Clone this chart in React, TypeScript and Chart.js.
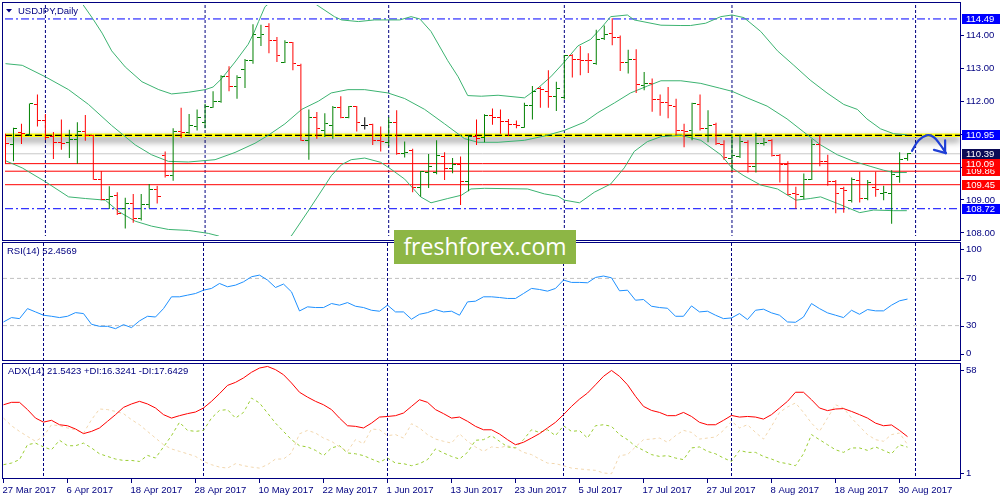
import React, { useEffect, useRef } from "react";
import { Chart, registerables } from "chart.js";

Chart.register(...registerables);

// ---------------- data ----------------
const OPEN = [
  110.95, 110.66, 111.05, 110.97, 111.89, 111.40, 110.93, 110.74, 110.74, 110.81,
  111.07, 110.95, 109.60, 109.01, 109.13, 108.73, 108.88, 108.43, 108.86, 109.29,
  110.34, 109.72, 111.07, 111.05, 111.23, 111.35, 111.81, 111.99, 112.73, 112.45,
  112.96, 113.24, 113.94, 114.26, 113.84, 113.18, 113.77, 113.08, 110.80, 111.50,
  111.10, 111.25, 111.79, 111.50, 111.82, 111.25, 111.27, 110.80, 110.74, 111.35,
  110.41, 110.48, 109.37, 109.82, 109.82, 110.31, 109.94, 110.06, 109.54, 110.93,
  110.87, 111.55, 111.48, 111.37, 111.28, 111.20, 111.86, 112.36, 112.29, 112.12,
  112.11, 113.37, 113.27, 113.24, 113.15, 113.89, 114.05, 113.92, 113.16, 113.25,
  112.48, 112.53, 112.04, 111.94, 111.84, 111.10, 111.10, 111.89, 111.15, 111.27,
  110.68, 110.26, 110.31, 110.74, 110.01, 110.71, 110.80, 110.34, 110.06, 109.17,
  109.10, 109.62, 110.66, 110.16, 109.54, 109.32, 108.96, 109.59, 109.03, 109.35,
  109.17, 109.19, 109.70, 110.24,
];
const HIGH = [
  111.00, 111.18, 111.30, 111.92, 112.19, 111.60, 111.05, 111.43, 111.12, 111.35,
  111.57, 110.97, 109.87, 109.40, 109.22, 109.05, 109.17, 109.17, 109.47, 109.42,
  110.46, 111.17, 111.79, 111.60, 111.74, 111.91, 112.29, 112.78, 113.05, 112.78,
  113.27, 114.33, 114.31, 114.36, 113.94, 113.84, 113.79, 113.13, 111.74, 111.66,
  111.62, 111.84, 112.14, 111.84, 111.84, 111.50, 111.30, 111.22, 111.50, 111.71,
  110.76, 110.54, 109.87, 110.38, 110.80, 110.44, 110.26, 110.31, 110.95, 111.43,
  111.59, 111.77, 111.74, 111.45, 111.40, 111.94, 112.45, 112.43, 112.93, 112.58,
  113.39, 113.42, 113.67, 113.45, 114.16, 114.29, 114.51, 113.99, 113.55, 113.57,
  112.88, 112.68, 112.19, 112.42, 112.06, 111.30, 111.94, 112.19, 111.71, 111.33,
  110.80, 110.97, 110.97, 110.80, 111.03, 110.87, 110.83, 110.38, 110.16, 109.39,
  109.79, 110.83, 110.95, 110.36, 109.59, 109.39, 109.67, 109.85, 109.59, 109.84,
  109.42, 109.89, 110.44, 110.41,
];
const LOW = [
  110.09, 110.16, 110.69, 110.93, 111.22, 110.81, 110.23, 110.51, 110.26, 110.09,
  110.79, 109.60, 108.98, 108.71, 108.53, 108.12, 108.29, 108.36, 108.73, 108.88,
  109.67, 109.57, 110.87, 111.00, 111.10, 111.17, 111.79, 111.94, 112.29, 112.06,
  112.39, 113.13, 113.67, 113.45, 113.18, 113.15, 112.93, 110.79, 110.21, 110.85,
  110.90, 110.85, 111.47, 111.47, 111.07, 111.13, 110.66, 110.46, 110.61, 110.36,
  110.28, 109.22, 109.08, 109.35, 109.77, 109.59, 109.80, 108.83, 109.25, 110.66,
  110.74, 111.27, 111.00, 110.93, 111.17, 111.18, 111.43, 111.79, 111.79, 111.69,
  112.04, 112.71, 112.78, 112.85, 113.10, 113.85, 113.69, 112.91, 112.83, 112.24,
  112.32, 111.67, 111.55, 111.47, 110.95, 110.59, 110.80, 111.10, 110.74, 110.66,
  110.21, 109.87, 110.26, 109.82, 109.82, 110.64, 110.31, 109.52, 109.13, 108.72,
  109.01, 109.59, 110.01, 109.42, 108.58, 108.60, 108.91, 108.91, 108.98, 109.08,
  108.98, 108.26, 109.51, 110.18,
];
const CLOSE = [
  110.69, 111.15, 111.00, 111.92, 111.40, 110.90, 110.74, 110.69, 110.81, 111.07,
  110.95, 109.60, 109.01, 109.08, 108.58, 108.88, 108.43, 108.86, 109.29, 109.10,
  109.72, 111.07, 111.03, 111.25, 111.50, 111.84, 111.99, 112.73, 112.45, 112.71,
  113.24, 114.02, 114.02, 113.84, 113.37, 113.77, 113.13, 110.80, 111.50, 111.15,
  111.30, 111.79, 111.50, 111.82, 111.33, 111.25, 110.80, 110.76, 111.35, 110.41,
  110.44, 109.37, 109.85, 110.01, 110.34, 109.94, 110.06, 109.54, 110.93, 110.85,
  111.55, 111.48, 111.37, 111.28, 111.25, 111.86, 112.29, 112.34, 112.14, 112.39,
  113.37, 113.27, 113.24, 113.22, 113.87, 114.02, 113.92, 113.16, 113.25, 112.51,
  112.53, 112.04, 111.94, 111.86, 111.10, 111.07, 111.92, 111.15, 111.25, 110.69,
  110.28, 110.34, 110.76, 110.01, 110.71, 110.74, 110.34, 110.06, 109.15, 109.14,
  109.62, 110.66, 110.16, 109.54, 109.17, 109.27, 109.62, 109.03, 109.52, 109.29,
  109.22, 109.77, 110.21, 110.39,
];

// Bollinger bands: [bar index, price]
const BB_UPPER: [number, number][] = [
  [9.2, 115.1], [10.9, 114.51], [12.1, 114.06], [13.3, 113.52], [15, 113.03], [17.1, 112.58],
  [19.2, 112.34], [20.8, 112.21], [22.9, 112.26], [25, 112.34], [26, 112.42], [27.1, 112.68],
  [28.75, 113.18], [30.4, 113.72], [31.1, 114.06], [31.7, 114.41], [32.5, 114.86], [33.2, 115.0],
  [36, 115.4], [38.97, 114.92], [41.2, 114.56], [42.1, 114.46], [44.2, 114.41], [46.2, 114.46],
  [49.4, 114.46], [50.8, 114.56], [51.9, 114.49], [53.3, 114.11], [55.4, 113.22], [56.7, 112.73],
  [57.9, 112.16], [59.6, 112.14], [61.7, 112.17], [65, 112.09], [66.7, 112.39], [68.3, 112.73],
  [70, 113.18], [71.7, 113.67], [73.3, 113.87], [74.6, 114.21], [75.8, 114.56], [77.9, 114.61],
  [78.75, 114.46], [82.1, 114.30], [84.6, 114.29], [85.8, 114.29], [87.7, 114.36], [89.6, 114.56],
  [91, 114.61], [92.5, 114.53], [94.6, 114.11], [96.7, 113.52], [98.75, 113.08], [100.8, 112.63],
  [102.9, 112.24], [105, 111.89], [106.7, 111.74], [107.9, 111.45], [109.6, 111.15], [111.25, 111.00],
  [112.9, 110.97],
];
const BB_MIDDLE: [number, number][] = [
  [0, 113.13], [2.1, 113.08], [5, 112.73], [7.9, 112.34], [10.4, 111.89], [13.3, 111.25],
  [16.25, 110.66], [18.3, 110.36], [20.4, 110.16], [22.9, 110.14], [26.25, 110.21], [28.75, 110.43],
  [31.25, 110.71], [32.9, 110.95], [35, 111.30], [37.1, 111.74], [39.2, 111.99], [40.8, 112.24],
  [42.9, 112.34], [45, 112.34], [47.9, 112.24], [50, 112.07], [52.5, 111.74], [55, 111.30],
  [57.5, 110.85], [59.2, 110.74], [61.7, 110.74], [65, 110.80], [67.5, 110.93], [70, 111.10],
  [72.5, 111.35], [74.2, 111.64], [76.3, 111.94], [78.3, 112.24], [80.4, 112.45], [82.1, 112.61],
  [84.6, 112.61], [87.1, 112.53], [89.4, 112.39], [91, 112.29], [92.9, 112.09], [95.4, 111.84],
  [97.9, 111.45], [100, 111.05], [102.1, 110.66], [104.2, 110.36], [106.25, 110.16], [108.3, 110.01],
  [110, 109.89], [111.25, 109.82], [112.9, 109.82],
];
const BB_LOWER: [number, number][] = [
  [0, 110.18], [2.1, 109.96], [5, 109.54], [7.9, 109.08], [10, 109.03], [12.5, 108.98],
  [14.2, 108.63], [16.25, 108.34], [18.3, 108.19], [20.4, 108.09], [22.9, 108.06], [25.4, 107.97],
  [26.7, 107.89], [31, 107.3], [35.8, 107.89], [38, 108.68], [40, 109.42], [40.8, 109.72],
  [42.1, 110.06], [43.3, 110.21], [45, 110.26], [47, 110.13], [48.3, 109.92], [50, 109.62],
  [52, 109.08], [53.3, 108.90], [55.4, 109.03], [57.1, 109.13], [58.3, 109.32], [60, 109.34],
  [65.4, 109.32], [67.5, 109.17], [69.2, 109.10], [70, 108.98], [71.9, 108.90], [73.75, 109.22],
  [75.8, 109.47], [77.5, 109.96], [78.75, 110.46], [80.4, 110.76], [82.1, 110.91], [84.6, 110.95],
  [87.1, 110.80], [89.6, 110.36], [91, 109.96], [92.5, 109.72], [94.6, 109.44], [96.7, 109.32],
  [99, 108.98], [100.8, 109.03], [102.1, 109.08], [104.2, 108.88], [107, 108.60], [108.75, 108.68],
  [111.25, 108.66], [112.9, 108.66],
];

const RSI = [
  33.1, 36.8, 35.9, 44.4, 41.6, 38.8, 37.9, 36.8, 37.9, 41.0,
  40.2, 31.1, 29.4, 29.4, 27.4, 30.8, 28.3, 34.0, 37.9, 37.3,
  44.4, 54.4, 54.4, 55.8, 57.2, 60.0, 61.5, 65.7, 62.9, 64.3,
  67.1, 71.4, 72.8, 68.6, 62.3, 65.2, 58.6, 42.4, 45.9, 45.3,
  45.3, 48.7, 47.3, 49.5, 46.4, 45.3, 43.0, 42.2, 47.3, 41.6,
  41.6, 35.4, 39.6, 41.0, 43.6, 41.6, 42.2, 38.8, 50.1, 50.7,
  54.4, 54.4, 53.8, 53.0, 53.0, 57.2, 61.5, 60.6, 59.2, 61.5,
  68.6, 66.6, 66.6, 66.3, 70.8, 72.0, 70.5, 59.5, 60.0, 51.5,
  52.1, 46.4, 45.3, 44.7, 37.9, 37.9, 46.7, 41.6, 42.2, 38.8,
  35.9, 36.5, 40.2, 35.1, 43.0, 43.9, 40.8, 38.8, 33.1, 32.8,
  37.3, 48.7, 44.4, 40.8, 38.8, 36.8, 43.0, 39.6, 43.6, 42.5,
  42.5, 47.3, 51.0, 52.5,
];
const ADX = [
  37.3, 38.5, 38.5, 34.9, 30.7, 28.7, 29.6, 27.4, 26.9, 25.3,
  23.0, 24.1, 25.8, 29.1, 32.4, 36.0, 37.7, 39.0, 37.7, 35.7,
  32.4, 30.7, 31.9, 32.9, 33.7, 35.7, 39.0, 42.8, 46.9, 48.4,
  50.6, 53.4, 55.5, 56.3, 54.7, 52.2, 48.1, 43.5, 41.1, 39.0,
  37.3, 34.9, 30.7, 26.9, 26.6, 25.8, 28.2, 31.2, 31.5, 31.9,
  33.2, 36.5, 39.8, 38.5, 34.9, 32.9, 30.7, 31.2, 29.1, 26.6,
  24.9, 24.9, 22.8, 20.0, 17.5, 18.7, 20.8, 23.0, 25.8, 28.6,
  32.4, 36.5, 40.1, 43.1, 47.2, 51.4, 54.3, 51.4, 47.2, 41.5,
  36.5, 34.5, 33.5, 31.9, 31.9, 33.5, 31.5, 28.6, 27.4, 27.4,
  29.6, 32.0, 31.2, 31.5, 31.2, 30.2, 32.4, 35.7, 39.0, 43.5,
  43.5, 39.8, 35.7, 34.4, 35.2, 35.4, 34.0, 32.4, 30.7, 28.2,
  26.9, 27.3, 24.6, 21.5,
];
const PLUS_DI = [
  7.6, 8.4, 10.1, 17.5, 18.3, 16.4, 15.0, 19.7, 17.0, 17.0,
  18.3, 15.9, 13.0, 11.7, 10.4, 9.7, 9.7, 9.2, 12.2, 10.9,
  16.4, 22.0, 28.6, 24.6, 24.1, 24.6, 30.7, 34.5, 34.9, 30.7,
  33.5, 40.6, 38.2, 33.2, 28.2, 24.1, 20.0, 17.0, 16.4, 14.7,
  12.1, 15.9, 17.0, 13.4, 13.0, 12.1, 10.4, 8.8, 10.9, 8.4,
  8.1, 7.1, 8.1, 10.1, 15.4, 13.4, 11.7, 10.4, 13.7, 19.7,
  20.0, 22.0, 19.2, 16.4, 15.9, 20.0, 24.9, 23.6, 24.9, 22.0,
  26.9, 24.1, 24.5, 20.8, 26.9, 27.4, 26.6, 22.5, 20.0, 16.7,
  14.7, 12.6, 11.7, 12.1, 10.9, 10.1, 15.9, 16.4, 14.2, 13.0,
  10.9, 9.2, 14.7, 13.7, 13.7, 11.7, 10.4, 8.8, 8.1, 7.1,
  13.0, 22.5, 20.0, 17.5, 15.0, 13.7, 15.9, 15.9, 14.7, 16.4,
  14.7, 13.0, 17.5, 16.3,
];
const MINUS_DI = [
  30.7, 26.9, 24.1, 21.6, 19.2, 21.6, 27.4, 26.9, 25.8, 24.9,
  23.3, 29.9, 35.2, 34.9, 34.0, 32.9, 29.9, 27.4, 24.1, 20.8,
  17.5, 15.4, 14.2, 13.0, 11.7, 9.2, 7.6, 6.4, 5.9, 8.1,
  7.1, 6.4, 5.9, 7.6, 10.4, 10.4, 13.4, 22.9, 24.6, 23.3,
  20.8, 19.2, 16.4, 14.2, 20.0, 18.0, 25.3, 24.9, 22.0, 22.5,
  20.8, 27.9, 25.8, 22.5, 20.3, 19.2, 18.3, 22.9, 19.2, 16.4,
  14.2, 16.4, 16.0, 17.0, 15.9, 13.7, 12.6, 10.4, 8.4, 8.1,
  7.1, 5.9, 5.5, 5.1, 4.8, 3.5, 3.1, 12.1, 12.6, 16.4,
  20.0, 20.3, 20.8, 18.7, 22.0, 24.6, 23.6, 20.3, 20.8, 21.3,
  24.6, 29.1, 25.8, 27.4, 23.6, 20.3, 26.6, 33.5, 36.2, 38.2,
  33.5, 28.2, 24.1, 30.7, 37.3, 35.7, 30.7, 26.6, 22.5, 20.0,
  19.2, 22.5, 23.3, 17.6,
];

const X_LABEL_BARS = [0, 8, 16, 24, 32, 40, 48, 56, 64, 72, 80, 88, 96, 104, 112];
const X_LABELS = [
  "27 Mar 2017", "6 Apr 2017", "18 Apr 2017", "28 Apr 2017", "10 May 2017",
  "22 May 2017", "1 Jun 2017", "13 Jun 2017", "23 Jun 2017", "5 Jul 2017",
  "17 Jul 2017", "27 Jul 2017", "8 Aug 2017", "18 Aug 2017", "30 Aug 2017",
];
const MONTH_START_BARS = [5, 25, 48, 70, 91, 114];
const PRICE_TICKS = [114, 113, 112, 111, 110, 109, 108];
const LEVEL_VALUES = [114.49, 110.95, 110.39, 110.09, 109.86, 109.45, 108.72];
const RSI_LEVELS = [70, 30];
const RSI_TICKS = [100, 70, 30, 0];
const ADX_TICKS = [58, 1];
const ARROW_PATH: [number, number][] = [
  [113.55, 110.48], [114.4, 110.80], [115.4, 110.95], [116.25, 110.90], [117.1, 110.66], [117.8, 110.41],
];
const ARROW_HEAD: [number, number][] = [[116.3, 110.51], [117.8, 110.41], [117.7, 110.80]];
const TITLE = "USDJPY,Daily";
const RSI_TITLE = "RSI(14) 52.4569";
const ADX_TITLE = "ADX(14) 21.5423 +DI:16.3241 -DI:17.6429";
const WATERMARK = "freshforex.com";

// ---------------- layout / style ----------------
const X_MIN = -0.0625;
const X_MAX = 119.5625;
const PRICE_MIN = 107.89;
const PRICE_MAX = 114.914;
const NAVY = "#000080";
const GREEN = "#008000";
const RED = "#FF0000";
const BLACK = "#000000";
const BB_COLOR = "#3CB371";
const FONT = '9.5px "Liberation Sans", Arial, sans-serif';
const LEVEL_BOX = ["#0000FF", "#0000FF", "#0B0B55", "#FF0000", "#FF0000", "#FF0000", "#0000FF"];

const pts = (arr: number[]) => arr.map((v, i) => ({ x: i, y: v }));
const pairs = (arr: [number, number][]) => arr.map(([x, y]) => ({ x, y }));
const hline = (v: number) => [{ x: X_MIN, y: v }, { x: X_MAX, y: v }];

function tickImage(color: string, left: boolean) {
  const c = document.createElement("canvas");
  c.width = 7;
  c.height = 1;
  const g = c.getContext("2d")!;
  g.fillStyle = color;
  g.fillRect(left ? 0 : 4, 0, 3, 1);
  return c;
}

const baseOptions = (padding: any, yMin: number, yMax: number) => ({
  responsive: false,
  animation: false,
  devicePixelRatio: 1,
  events: [],
  layout: { padding },
  plugins: { legend: { display: false }, tooltip: { enabled: false } },
  elements: { point: { radius: 0 }, line: { borderWidth: 1, tension: 0 } },
  scales: {
    x: { type: "linear", min: X_MIN, max: X_MAX, display: false, offset: false },
    y: { type: "linear", min: yMin, max: yMax, display: false },
  },
});

function drawMonthGrid(chart: any) {
  const { ctx, chartArea: a, scales } = chart;
  ctx.save();
  ctx.strokeStyle = NAVY;
  ctx.lineWidth = 1;
  ctx.setLineDash([3, 2]);
  MONTH_START_BARS.forEach((b) => {
    const px = scales.x.getPixelForValue(b);
    ctx.beginPath();
    ctx.moveTo(px, a.top);
    ctx.lineTo(px, a.bottom);
    ctx.stroke();
  });
  ctx.restore();
}

function drawFrame(ctx: any, top: number, bottom: number) {
  ctx.save();
  ctx.strokeStyle = NAVY;
  ctx.lineWidth = 1;
  ctx.setLineDash([]);
  ctx.strokeRect(2.5, top, 958, bottom - top);
  ctx.restore();
}

const shadowPlugin = {
  id: "shadowPlugin",
  beforeDatasetDraw(chart: any, args: any) {
    const ds = chart.data.datasets[args.index];
    if (ds.shadow) {
      const ctx = chart.ctx;
      ctx.save();
      ctx.shadowColor = "rgba(0,0,0,0.6)";
      ctx.shadowBlur = 7;
      ctx.shadowOffsetY = 4;
    }
  },
  afterDatasetDraw(chart: any, args: any) {
    const ds = chart.data.datasets[args.index];
    if (ds.shadow) chart.ctx.restore();
  },
};

const mainDecor = {
  id: "mainDecor",
  beforeDatasetsDraw(chart: any) {
    drawMonthGrid(chart);
  },
  afterDraw(chart: any) {
    const { ctx, scales } = chart;
    drawFrame(ctx, 2.5, 240.5);
    ctx.save();
    ctx.font = FONT;
    ctx.textBaseline = "middle";
    ctx.textAlign = "left";
    ctx.strokeStyle = NAVY;
    ctx.fillStyle = NAVY;
    ctx.lineWidth = 1;
    PRICE_TICKS.forEach((p) => {
      const py = scales.y.getPixelForValue(p);
      ctx.beginPath();
      ctx.moveTo(960, Math.round(py) + 0.5);
      ctx.lineTo(964, Math.round(py) + 0.5);
      ctx.stroke();
      ctx.fillText(p.toFixed(2), 966, py + 0.5);
    });
    for (let i = LEVEL_VALUES.length - 1; i >= 0; i--) {
      const v = LEVEL_VALUES[i];
      const py = scales.y.getPixelForValue(v);
      ctx.fillStyle = LEVEL_BOX[i];
      ctx.fillRect(962, Math.round(py) - 5, 38, 10);
      ctx.fillStyle = "#FFFFFF";
      ctx.fillText(v.toFixed(2), 966, Math.round(py) + 0.5);
    }
    // title
    ctx.fillStyle = NAVY;
    ctx.beginPath();
    ctx.moveTo(6, 9);
    ctx.lineTo(12, 9);
    ctx.lineTo(9, 12.5);
    ctx.closePath();
    ctx.fill();
    ctx.fillText(TITLE, 18, 11);
    ctx.restore();
  },
};

const rsiDecor = {
  id: "rsiDecor",
  beforeDatasetsDraw(chart: any) {
    drawMonthGrid(chart);
  },
  afterDraw(chart: any) {
    const { ctx, scales } = chart;
    drawFrame(ctx, 1.5, 119.5);
    ctx.save();
    ctx.font = FONT;
    ctx.textBaseline = "middle";
    ctx.fillStyle = NAVY;
    ctx.strokeStyle = NAVY;
    RSI_TICKS.forEach((v) => {
      let py = scales.y.getPixelForValue(v);
      if (v === 100) py += 6;
      if (v === 0) py -= 7.5;
      ctx.beginPath();
      ctx.moveTo(960, Math.round(py) + 0.5);
      ctx.lineTo(964, Math.round(py) + 0.5);
      ctx.stroke();
      ctx.fillText(String(v), 966, py);
    });
    ctx.fillText(RSI_TITLE, 7, 10.5);
    ctx.restore();
  },
};

const adxDecor = {
  id: "adxDecor",
  beforeDatasetsDraw(chart: any) {
    drawMonthGrid(chart);
  },
  afterDraw(chart: any) {
    const { ctx, scales } = chart;
    drawFrame(ctx, 2.5, 117.5);
    ctx.save();
    ctx.font = FONT;
    ctx.textBaseline = "middle";
    ctx.fillStyle = NAVY;
    ctx.strokeStyle = NAVY;
    ctx.lineWidth = 1;
    ADX_TICKS.forEach((v, i) => {
      let py = scales.y.getPixelForValue(v);
      py += i === 0 ? 7 : -5;
      ctx.beginPath();
      ctx.moveTo(960, Math.round(py) + 0.5);
      ctx.lineTo(964, Math.round(py) + 0.5);
      ctx.stroke();
      ctx.fillText(String(v), 966, py);
    });
    ctx.fillText(ADX_TITLE, 8, 10.5);
    ctx.textBaseline = "alphabetic";
    X_LABEL_BARS.forEach((b, i) => {
      const px = scales.x.getPixelForValue(b);
      ctx.beginPath();
      ctx.moveTo(px, 117.5);
      ctx.lineTo(px, 122);
      ctx.stroke();
      ctx.fillText(X_LABELS[i], px - 1, 131.5);
    });
    ctx.restore();
  },
};

export default function App() {
  const mainRef = useRef<HTMLCanvasElement>(null);
  const rsiRef = useRef<HTMLCanvasElement>(null);
  const adxRef = useRef<HTMLCanvasElement>(null);

  useEffect(() => {
    const colors = CLOSE.map((c, i) => (c > OPEN[i] ? GREEN : c < OPEN[i] ? RED : BLACK));
    const imgs: any = {};
    [GREEN, RED, BLACK].forEach((c) => {
      imgs[c] = { open: tickImage(c, true), close: tickImage(c, false) };
    });

    const levelLine = (i: number, color: string, dash: number[], width: number, order: number, extra: any = {}) => ({
      type: "line",
      data: hline(LEVEL_VALUES[i]),
      borderColor: color,
      borderWidth: width,
      borderDash: dash,
      pointRadius: 0,
      order,
      ...extra,
    });

    const main = new Chart(mainRef.current!, {
      type: "bar",
      data: {
        datasets: [
          {
            type: "bar",
            data: HIGH.map((h, i) => ({ x: i, y: [LOW[i], h] })),
            backgroundColor: colors,
            borderWidth: 0,
            barThickness: 1,
            inflateAmount: 0,
            order: 1,
          },
          {
            type: "line",
            data: pts(OPEN),
            showLine: false,
            pointStyle: colors.map((c) => imgs[c].open),
            pointRadius: 3,
            order: 0,
          },
          {
            type: "line",
            data: pts(CLOSE),
            showLine: false,
            pointStyle: colors.map((c) => imgs[c].close),
            pointRadius: 3,
            order: 0,
          },
          { type: "line", data: pairs(BB_UPPER), borderColor: BB_COLOR, borderWidth: 1, pointRadius: 0, order: 5 },
          { type: "line", data: pairs(BB_MIDDLE), borderColor: BB_COLOR, borderWidth: 1, pointRadius: 0, order: 5 },
          { type: "line", data: pairs(BB_LOWER), borderColor: BB_COLOR, borderWidth: 1, pointRadius: 0, order: 5 },
          levelLine(0, "#0000FF", [8, 3, 2, 3], 1, 8),
          levelLine(1, "#FFFF00", [], 3.5, 10, { shadow: true }),
          levelLine(1, "#000000", [7, 3], 1.2, 9),
          levelLine(2, "#C8C8C8", [], 1, 8),
          levelLine(3, RED, [], 1, 8),
          levelLine(4, RED, [], 1, 8),
          levelLine(5, RED, [], 1, 8),
          levelLine(6, "#0000FF", [8, 3, 2, 3], 1, 8),
          {
            type: "line",
            data: pairs(ARROW_PATH),
            borderColor: "#1F3FD6",
            borderWidth: 2.2,
            tension: 0.45,
            pointRadius: 0,
            borderCapStyle: "round",
            order: -1,
          },
          {
            type: "line",
            data: pairs(ARROW_HEAD),
            borderColor: "#1F3FD6",
            borderWidth: 2.2,
            pointRadius: 0,
            borderCapStyle: "round",
            borderJoinStyle: "round",
            order: -1,
          },
        ],
      },
      options: baseOptions({ left: 3, right: 40, top: 3, bottom: 1 }, PRICE_MIN, PRICE_MAX) as any,
      plugins: [shadowPlugin, mainDecor],
    } as any);

    const rsi = new Chart(rsiRef.current!, {
      type: "line",
      data: {
        datasets: [
          { data: pts(RSI), borderColor: "#1E90FF", borderWidth: 1, pointRadius: 0, order: 0 },
          ...RSI_LEVELS.map((v) => ({
            data: hline(v),
            borderColor: "#C0C0C0",
            borderWidth: 1,
            borderDash: [4, 3],
            pointRadius: 0,
            order: 5,
          })),
        ],
      },
      options: baseOptions({ left: 3, right: 40, top: 2, bottom: 1 }, 0, 100) as any,
      plugins: [rsiDecor],
    } as any);

    const adx = new Chart(adxRef.current!, {
      type: "line",
      data: {
        datasets: [
          { data: pts(ADX), borderColor: "#FF0000", borderWidth: 1, pointRadius: 0, order: 0 },
          { data: pts(PLUS_DI), borderColor: "#9ACD32", borderWidth: 1, borderDash: [3, 3], pointRadius: 0, order: 1 },
          { data: pts(MINUS_DI), borderColor: "#F2D7AE", borderWidth: 1, borderDash: [3, 3], pointRadius: 0, order: 2 },
        ],
      },
      options: baseOptions({ left: 3, right: 40, top: 2, bottom: 22 }, 1, 58) as any,
      plugins: [adxDecor],
    } as any);

    return () => {
      main.destroy();
      rsi.destroy();
      adx.destroy();
    };
  }, []);

  const canvasStyle = (top: number, h: number): React.CSSProperties => ({
    position: "absolute",
    left: 0,
    top,
    width: 1000,
    height: h,
    display: "block",
  });

  return (
    <div style={{ position: "absolute", left: 0, top: 0, width: 1000, height: 500, background: "#FFFFFF", overflow: "hidden" }}>
      <canvas ref={mainRef} width={1000} height={241} style={canvasStyle(0, 241)} />
      <canvas ref={rsiRef} width={1000} height={121} style={canvasStyle(241, 121)} />
      <canvas ref={adxRef} width={1000} height={139} style={canvasStyle(361, 139)} />
      <div
        style={{
          position: "absolute",
          left: 394,
          top: 230,
          width: 182,
          height: 34,
          background: "#8DB645",
          color: "#FFFFFF",
          fontFamily: '"Open Sans", sans-serif',
          fontSize: 23,
          lineHeight: "33px",
          textAlign: "center",
        }}
      >
        {WATERMARK}
      </div>
    </div>
  );
}
